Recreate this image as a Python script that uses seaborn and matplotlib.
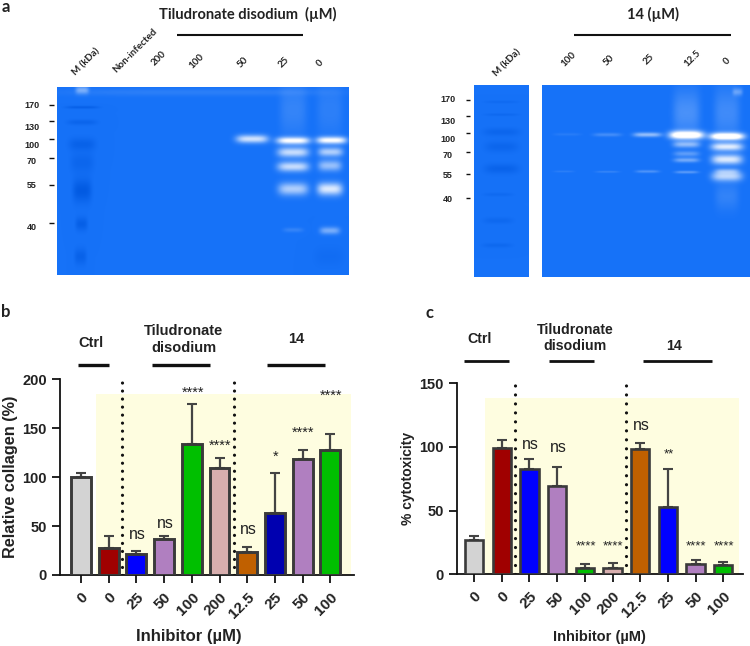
import numpy as np
import pandas as pd
import seaborn as sns
import matplotlib.pyplot as plt
from matplotlib.colors import LinearSegmentedColormap

# bar data, panel b and c share the same doses
doses = ['0', '0', '25', '50', '100', '200', '12.5', '25', '50', '100']
bar_ids = ['b0', 'b1', 'b2', 'b3', 'b4', 'b5', 'b6', 'b7', 'b8', 'b9']
collagen = [100, 27.5, 21, 36.5, 134, 109, 23, 63.5, 118.5, 127.5]
collagen_top = [104, 40, 25, 40, 175, 120, 29, 104.5, 128, 144]
cytotox = [27, 99.5, 82.5, 69.5, 5, 5, 98.7, 53, 8, 7]
cytotox_top = [30, 105.5, 90.6, 84.6, 8, 9, 103, 82.5, 11, 10]

colors_b = ['#d3d3d3', '#a00000', '#0000ff', '#b07fc0', '#00bf00',
            '#d8aeae', '#c06000', '#0000b0', '#b07fc0', '#00bf00']
colors_c = ['#d3d3d3', '#a00000', '#0000ff', '#b07fc0', '#00bf00',
            '#d8aeae', '#c06000', '#0000ff', '#b07fc0', '#00bf00']

# significance labels: bar, height, text
marks_b = [(2, 41, 'ns'), (3, 53, 'ns'), (6, 46, 'ns'), (4, 186, '****'), (5, 132, '****'),
           (7, 121, '*'), (8, 145, '****'), (9, 183, '****')]
marks_c = [(2, 102, 'ns'), (3, 99.5, 'ns'), (6, 116.7, 'ns'), (7, 94, '**'),
           (4, 21.7, '****'), (5, 21.7, '****'), (8, 21.7, '****'), (9, 21.7, '****')]

# gel bands, read off 3x crops: x, y, half width, half height, strength
# strength > 0 is a cleared (white) band, < 0 is a dark stained band
bands_left = [
    (245, 322, 50, 3, -0.7), (245, 367, 45, 6, -0.5), (245, 433, 40, 14, -0.6),
    (245, 488, 35, 22, -0.45), (245, 572, 28, 26, -0.9), (243, 672, 18, 15, -0.7),
    (240, 770, 18, 18, -0.6), (245, 270, 20, 9, 0.4), (600, 277, 420, 8, 0.09),
    (755, 417, 48, 9, 0.8), (878, 422, 50, 8, 1.0), (878, 457, 47, 11, 0.75),
    (878, 500, 47, 11, 0.75), (878, 567, 45, 14, 0.65), (878, 690, 30, 5, 0.13),
    (878, 330, 40, 60, 0.13), (993, 421, 45, 8, 1.0), (990, 456, 37, 10, 0.65),
    (988, 497, 35, 12, 0.55), (988, 567, 38, 14, 0.85), (988, 692, 30, 8, 0.42),
    (988, 330, 38, 60, 0.1), (985, 770, 45, 22, -0.2),
]
bands_marker = [
    (245, 308, 52, 3, -0.3), (245, 346, 52, 3, -0.35), (245, 398, 55, 9, -0.45),
    (245, 442, 50, 12, -0.45), (245, 508, 52, 11, -0.55), (235, 585, 45, 4, -0.3),
    (235, 663, 45, 7, -0.35), (232, 737, 45, 5, -0.35),
]
bands_right = [
    (797, 407, 52, 9, 1.3), (797, 435, 40, 7, 0.5), (797, 463, 38, 6, 0.3),
    (797, 482, 38, 5, 0.4), (797, 518, 35, 3, 0.3), (797, 340, 40, 50, 0.22),
    (918, 411, 52, 8, 1.3), (918, 442, 48, 9, 0.85), (918, 480, 46, 11, 0.85),
    (918, 530, 46, 11, 0.7), (918, 515, 35, 6, 0.35), (918, 340, 38, 55, 0.18),
    (918, 590, 35, 30, 0.12), (950, 278, 15, 8, 0.3),
    (680, 406, 42, 5, 0.55), (680, 516, 35, 3, 0.25),
    (560, 406, 42, 4, 0.2), (560, 517, 35, 2, 0.15),
    (440, 405, 40, 3, 0.08), (430, 516, 30, 2, 0.1),
]
kda_left = ['170', '130', '100', '70', '55', '40']

sns.set_theme(style='ticks')
plt.rcParams['font.family'] = ['Liberation Sans', 'DejaVu Sans']
ink = '#222222'

fig = plt.figure(figsize=(7.5, 6.46), dpi=100)
# pixel axes behind everything, for gels and free labels
over = fig.add_axes([0, 0, 1, 1], zorder=-1)
over.axis('off')

gel_cmap = LinearSegmentedColormap.from_list('gel', [(0, '#0058e0'), (0.5, '#1672f8'), (1, '#ffffff')])


def draw_gel(x0, x1, y0, y1, bands, off):
    xs, ys = np.meshgrid(np.arange(x0, x1, 0.5), np.arange(y0, y1, 0.5))
    img = np.zeros_like(xs)
    for bx, by, w, h, amp in bands:
        dx = (xs - (off + bx / 3)) / (w / 3)
        dy = (ys - by / 3) / (1.35 * h / 3)
        img += amp * np.exp(-dx ** 4 - dy ** 2)
    over.imshow(img, extent=(x0, x1, y1, y0), cmap=gel_cmap, vmin=-1, vmax=1,
                aspect='auto', interpolation='bilinear')


draw_gel(56.7, 348.3, 87.3, 275, bands_left, 0)
draw_gel(474.3, 529, 86, 277.3, bands_marker, 420)
draw_gel(541.7, 749, 86, 277.3, bands_right, 420)
over.set_xlim(0, 750)
over.set_ylim(646, 0)


def txt(x, y, s, size=10, rot=0, fam='Lato'):
    over.text(x, y, s, fontsize=size, fontweight='bold', rotation=rot, ha='center', va='center',
              family=[fam, 'DejaVu Sans'], color=ink)


def rule(x0, x1, y, lw=1.5):
    over.plot([x0, x1], [y, y], color='#111111', lw=lw, solid_capstyle='butt')


# panel a, left gel
txt(6, 7, 'a', 12)
txt(248, 14, 'Tiludronate disodium  (µM)', 10.5)
rule(176.7, 302.7, 35)
for x, y, s in [(86, 62, 'M (kDa)'), (135, 51, 'Non-infected'), (159, 58, '200'), (197, 61, '100'),
                (243, 62, '50'), (284, 62, '25'), (320, 63, '0')]:
    txt(x, y, s, 7, rot=45)
for y, yt, s in zip([106, 127, 145, 162, 186, 227], [105, 121, 139, 158, 185, 223], kda_left):
    txt(32, y, s, 6.5, fam='Liberation Sans')
    rule(49, 54, yt, 1.0)

# panel a, right gel
txt(652.7, 14, '14 (µM)', 10.5)
rule(573.7, 731, 35)
for x, y, s in [(507, 63, 'M (kDa)'), (569, 59, '100'), (609, 60, '50'), (649, 59, '25'),
                (692, 58, '12.5'), (727, 61, '0')]:
    txt(x, y, s, 7, rot=45)
for y, yt, s in zip([100, 121, 139, 156, 176, 200], [100, 116, 133, 152, 174, 198], kda_left):
    txt(448, y, s, 6.5, fam='Liberation Sans')
    rule(465.7, 470, yt, 1.0)


def bar_panel(box, first, vals, tops, colors, ymax, yticks, width, edge, marks, star_size, span, dots, dot_gap,
              ylabel, ylab_xy, ylab_size, xlab_xy, xlab_size):
    left, right, top, bottom = box
    ax = fig.add_axes([left / 750, 1 - bottom / 646, (right - left) / 750, (bottom - top) / 646])
    ax.patch.set_alpha(0)
    df = pd.DataFrame({'bar': bar_ids, 'val': vals})
    ax.fill_between(span[:2], 0, span[2], color='#fefde0', lw=0, zorder=0)
    sns.barplot(data=df, x='bar', y='val', hue='bar', palette=colors, legend=False, errorbar=None,
                width=width, edgecolor='#3a3a3a', linewidth=edge, saturation=1, ax=ax, zorder=3)
    pos = np.arange(len(vals))
    ax.errorbar(pos, vals, yerr=[np.zeros(len(vals)), np.array(tops) - np.array(vals)], fmt='none',
                ecolor='#444444', elinewidth=1.6, capsize=3.8, capthick=1.5, zorder=2)
    for x in dots:
        ax.axvline(x, color='#111111', lw=2.3, dashes=(0.01, dot_gap), dash_capstyle='round', zorder=2.5)
    for i, y, s in marks:
        if s == 'ns':
            ax.text(i + 0.05, y, s, ha='center', va='center', fontsize=11.5, color=ink)
        else:
            ax.text(i + 0.03, y, s, ha='center', va='center', fontsize=star_size, color=ink)
    # bars are 27.7 px apart, first is the pixel column of bar 0
    ax.set_xlim((left - first) / 27.7, (right - first) / 27.7)
    ax.set_ylim(0, ymax)
    ax.set_yticks(yticks)
    ax.set_xticks(pos)
    ax.set_xticklabels(doses, rotation=45, ha='right', rotation_mode='anchor', fontweight='bold',
                       fontsize=11, color=ink)
    ax.set_yticklabels([str(t) for t in yticks], fontweight='bold', fontsize=10.5, color=ink)
    ax.tick_params(length=6, width=1.3, color='#111111')
    ax.tick_params(axis='x', pad=5)
    sns.despine(ax=ax)
    for s in ['left', 'bottom']:
        ax.spines[s].set_linewidth(1.3)
        ax.spines[s].set_color('#111111')
    ax.set_xlabel('Inhibitor (µM)', fontweight='bold', fontsize=xlab_size, color=ink, va='center')
    ax.xaxis.set_label_coords(*xlab_xy, transform=over.transData)
    ax.set_ylabel(ylabel, fontweight='bold', fontsize=ylab_size, color=ink, va='center')
    ax.yaxis.set_label_coords(*ylab_xy, transform=over.transData)
    return ax


# panel b
txt(6, 312, 'b', 12)
txt(91, 342.7, 'Ctrl', 10.5, fam='Liberation Sans')
txt(184, 331, 'Tiludronate', 10.5, fam='Liberation Sans')
txt(184, 348, 'disodium', 10.5, fam='Liberation Sans')
txt(296, 339, '14', 10.5, fam='Liberation Sans')
rule(78, 109, 365, 2.4)
rule(152, 210, 365, 2.4)
rule(267, 325, 365, 2.4)
bar_panel((60, 354, 379.3, 575), 81, collagen, collagen_top, colors_b, 200, [0, 50, 100, 150, 200], 0.72, 2.1,
          marks_b, 10.5, (0.53, 9.74, 184.7), (1.49, 5.51), 2.5, 'Relative collagen (%)', (11, 477), 11.7,
          (189, 636), 12)

# panel c
txt(430, 313, 'c', 12)
txt(480, 339, 'Ctrl', 10.2, fam='Liberation Sans')
txt(575, 330, 'Tiludronate', 10.2, fam='Liberation Sans')
txt(575, 346, 'disodium', 10.2, fam='Liberation Sans')
txt(674, 346, '14', 10.2, fam='Liberation Sans')
rule(464, 509, 361, 2)
rule(549, 594, 361, 2)
rule(643, 712, 361, 2)
bar_panel((456.7, 743.3, 383.3, 574.3), 474, cytotox, cytotox_top, colors_c, 150, [0, 50, 100, 150], 0.66, 1.9,
          marks_c, 9.5, (0.41, 9.58, 138.7), (1.49, 5.5), 2.8, '% cytotoxicity', (408, 478), 10, (599, 637), 10.5)

fig.savefig('out.png', dpi=100, facecolor='white')
